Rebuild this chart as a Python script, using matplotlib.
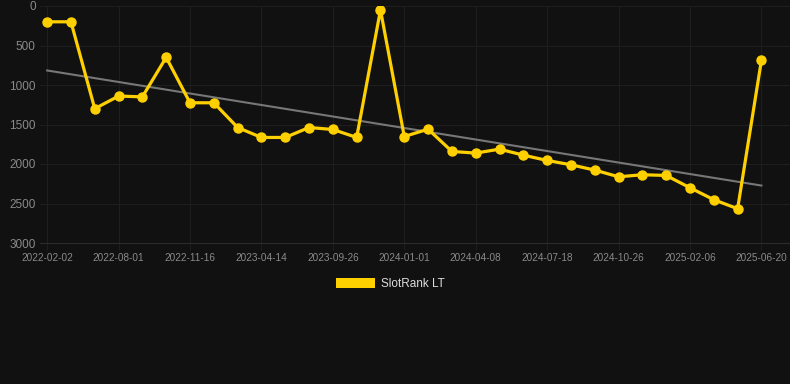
#!/usr/bin/env python3
"""SlotRank LT rank history with a linear trend line (lower rank = better, so y is inverted)."""

import numpy as np
import matplotlib

matplotlib.use("Agg")
import matplotlib.pyplot as plt

# Rank readings, one per snapshot (evenly spaced on the x axis)
rank_values = [
    200, 200, 1300, 1140, 1150, 650, 1225, 1225, 1538, 1664,
    1664, 1538, 1563, 1664, 50, 1652, 1559, 1841, 1862, 1812,
    1888, 1955, 2010, 2077, 2162, 2136, 2145, 2301, 2452, 2566,
    687,
]

# Only every third snapshot has a date label
tick_labels = [
    "2022-02-02", "2022-08-01", "2022-11-16", "2023-04-14", "2023-09-26",
    "2024-01-01", "2024-04-08", "2024-07-18", "2024-10-26", "2025-02-06",
    "2025-06-20",
]
tick_step = 3

y_ticks = [0, 500, 1000, 1500, 2000, 2500, 3000]
series_name = "SlotRank LT"

BG = "#111111"
GRID = "#1e1e1e"
AXIS_LINE = "#2c2c2c"
YELLOW = "#FFD000"
TREND = "#777777"
TICK_COLOR = "#8a8a8a"


def main():
    plt.rcParams["font.family"] = ["Liberation Sans", "DejaVu Sans"]

    fig = plt.figure(figsize=(7.9, 3.84), dpi=100, facecolor=BG)
    ax = fig.add_axes([40 / 790, 1 - 243 / 384, 750 / 790, 237 / 384])
    ax.set_facecolor(BG)

    x = np.arange(len(rank_values))
    y = np.array(rank_values, dtype=float)

    # Least-squares trend line
    slope, intercept = np.polyfit(x, y, 1)
    ax.plot(x[[0, -1]], intercept + slope * x[[0, -1]], color=TREND,
            linewidth=1.5, zorder=2)

    ax.plot(x, y, color=YELLOW, linewidth=2.3, marker="o", markersize=6.5,
            zorder=3, label=series_name)

    # Axes: inverted rank scale
    ax.set_ylim(3000, 0)
    ax.set_xlim(-0.3, 31.2)
    ax.set_yticks(y_ticks)
    ax.set_yticklabels([str(v) for v in y_ticks])
    ax.set_xticks(x[::tick_step])
    ax.set_xticklabels(tick_labels)

    ax.grid(True, color=GRID, linewidth=0.8)
    ax.set_axisbelow(True)
    for spine in ax.spines.values():
        spine.set_visible(False)
    ax.spines["bottom"].set_visible(True)
    ax.spines["bottom"].set_color(AXIS_LINE)
    ax.spines["bottom"].set_linewidth(0.8)

    ax.tick_params(axis="y", length=0, pad=3, labelsize=8.5, labelcolor=TICK_COLOR)
    ax.tick_params(axis="x", length=5, color=GRID, pad=2, labelsize=7.2,
                   labelcolor=TICK_COLOR)

    # Legend below the chart with a flat colour swatch
    handle = plt.Rectangle((0, 0), 1, 1, facecolor=YELLOW, edgecolor="none")
    fig.legend([handle], [series_name], loc="center",
               bbox_to_anchor=(390 / 790, 1 - 284 / 384), frameon=False,
               fontsize=8.5, labelcolor="#dddddd", handlelength=3.3,
               handleheight=0.9, handletextpad=0.5)

    fig.savefig("out.png", dpi=100, facecolor=BG)


if __name__ == "__main__":
    main()
